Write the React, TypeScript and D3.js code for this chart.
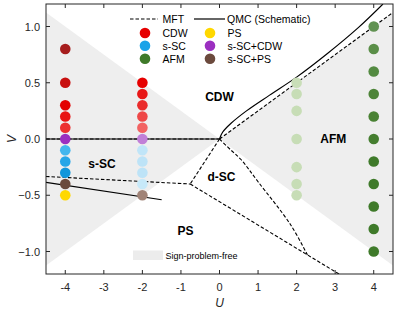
import React from "react";
import * as d3 from "d3";

// ---- data ----
const xTicks = [-4, -3, -2, -1, 0, 1, 2, 3, 4];
const yTicks = [-1.0, -0.5, 0.0, 0.5, 1.0];

const pointU = [
  -4, -4, -4, -4, -4, -4, -4, -4, -4, -4, -4,
  -2, -2, -2, -2, -2, -2, -2, -2, -2, -2, -2,
  2, 2, 2, 2, 2, 2, 2,
  4, 4, 4, 4, 4, 4, 4, 4, 4, 4, 4,
];
const pointV = [
  0.8, 0.5, 0.3, 0.2, 0.1, 0.0, -0.1, -0.2, -0.3, -0.4, -0.5,
  0.5, 0.4, 0.3, 0.2, 0.1, 0.0, -0.1, -0.2, -0.3, -0.4, -0.5,
  0.5, 0.4, 0.25, 0.0, -0.25, -0.4, -0.5,
  1.0, 0.8, 0.6, 0.4, 0.2, 0.0, -0.2, -0.4, -0.6, -0.8, -1.0,
];
const pointPhase = [
  "CDW", "CDW", "CDW", "CDW", "CDW", "s-SC+CDW", "s-SC", "s-SC", "s-SC", "s-SC+PS", "PS",
  "CDW", "CDW", "CDW", "CDW", "CDW", "s-SC+CDW", "s-SC", "s-SC", "s-SC", "s-SC", "s-SC+PS",
  "AFM", "AFM", "AFM", "AFM", "AFM", "AFM", "AFM",
  "AFM", "AFM", "AFM", "AFM", "AFM", "AFM", "AFM", "AFM", "AFM", "AFM", "AFM",
];

// MFT (dashed) boundaries
const mftLines: [number, number][][] = [
  [[-4.5, 0], [0, 0]],
  [[0, 0], [4.48, 1.12]],
  [[0, 0], [-0.76, -0.4]],
  [[-4.5, -0.333], [-0.76, -0.4]],
  [[-0.76, -0.4], [3.1, -1.2]],
  [[0, 0], [0.3, -0.1], [0.55, -0.18], [1.0, -0.38], [1.84, -0.76], [2.28, -1.03]],
];
// QMC (schematic, solid) boundaries
const qmcLines: [number, number][][] = [
  [[-4.5, 0], [0, 0]],
  [[0, 0], [0.08, 0.06], [0.3, 0.14], [0.7, 0.25], [1.3, 0.39], [2.0, 0.55], [2.8, 0.76], [3.6, 0.99], [4.24, 1.2]],
  [[-4.5, -0.386], [-1.5, -0.54]],
];
// sign-problem-free regions
const signFree: [number, number][][] = [
  [[-4.5, 1.125], [0, 0], [-4.5, -1.125]],
  [[4.5, 1.125], [0, 0], [4.5, -1.125]],
];

const regionLabels = ["CDW", "AFM", "s-SC", "d-SC", "PS"];
const regionU = [0.0, 2.95, -3.05, 0.05, -0.88];
const regionV = [0.37, 0.0, -0.22, -0.34, -0.82];

const legendPhases = ["CDW", "s-SC", "AFM", "PS", "s-SC+CDW", "s-SC+PS"];

// ---- styles ----
const phaseColor: Record<string, string> = {
  CDW: "#e60000",
  "s-SC": "#1ba3e8",
  AFM: "#3f7a2a",
  PS: "#ffd800",
  "s-SC+CDW": "#9b2fc0",
  "s-SC+PS": "#6b4a3d",
};
const pointFill = [
  "#a61d1d", "#c8100f", "#e30000", "#e81414", "#ec3030", "#9b2fc0", "#41b6ee", "#25a6e8", "#1196db", "#6b4a3d", "#ffd800",
  "#e60000", "#e81717", "#ea2c2c", "#ee4747", "#f26262", "#c17fd7", "#c0e5f8", "#bde3f7", "#bde3f7", "#c7e9f9", "#a08377",
  "#c9deb8", "#c7ddb6", "#c7ddb6", "#c7ddb6", "#c7ddb6", "#c7ddb6", "#c7ddb6",
  "#619252", "#5a8e48", "#538a41", "#4d8438", "#4a8234", "#457e30", "#3f7a2a", "#3f7a2a", "#3f7a2a", "#3f7a2a", "#3f7a2a",
];

const W = 399, H = 312;
const M = { left: 46, right: 393, top: 4, bottom: 274 };
const FONT = "'Liberation Sans', Arial, Helvetica, sans-serif";

export default function App() {
  const x = d3.scaleLinear().domain([-4.5, 4.5]).range([M.left, M.right]);
  const y = d3.scaleLinear().domain([-1.2, 1.2]).range([M.bottom, M.top]);
  const line = d3.line<[number, number]>().x((d) => x(d[0])).y((d) => y(d[1]));
  const curve = d3
    .line<[number, number]>()
    .x((d) => x(d[0]))
    .y((d) => y(d[1]))
    .curve(d3.curveCatmullRom.alpha(0.5));
  const R = 5.3;
  const legCol1 = 145, legCol2 = 210;
  const legRows = [33, 45.7, 58.7];

  return (
    <svg
      width={W}
      height={H}
      style={{ position: "absolute", left: 0, top: 0, background: "#fff" }}
      fontFamily={FONT}
    >
      <defs>
        <clipPath id="plotclip">
          <rect x={M.left} y={M.top} width={M.right - M.left} height={M.bottom - M.top} />
        </clipPath>
      </defs>
      <g clipPath="url(#plotclip)">
        {signFree.map((p, i) => (
          <path key={i} d={line(p)! + "Z"} fill="#eeeeee" stroke="none" />
        ))}
        {mftLines.map((p, i) => (
          <path key={"m" + i} d={curve(p)!} fill="none" stroke="#000" strokeWidth={1.1} strokeDasharray="3.5,2" />
        ))}
        {qmcLines.map((p, i) => (
          <path key={"q" + i} d={curve(p)!} fill="none" stroke="#000" strokeWidth={1.2} />
        ))}
        {pointU.map((u, i) => (
          <circle key={"p" + i} cx={x(u)} cy={y(pointV[i])} r={R} fill={pointFill[i]} />
        ))}
      </g>

      {/* region labels */}
      {regionLabels.map((t, i) => (
        <text
          key={t}
          x={x(regionU[i])}
          y={y(regionV[i])}
          textAnchor="middle"
          dominantBaseline="central"
          fontWeight="bold"
          fontSize={12}
        >
          {t}
        </text>
      ))}

      {/* legend */}
      <line x1={130} x2={158} y1={19} y2={19} stroke="#000" strokeWidth={1.1} strokeDasharray="3.5,2" />
      <text x={162.5} y={19} fontSize={10.5} dominantBaseline="central">MFT</text>
      <line x1={194} x2={225} y1={19} y2={19} stroke="#000" strokeWidth={1.2} />
      <text x={227} y={19} fontSize={10.5} dominantBaseline="central">QMC (Schematic)</text>
      {legendPhases.map((ph, i) => {
        const col = i < 3 ? 0 : 1;
        const row = i % 3;
        const cx = col === 0 ? legCol1 : legCol2;
        return (
          <g key={ph}>
            <circle cx={cx} cy={legRows[row]} r={R} fill={phaseColor[ph]} />
            <text x={cx + 17.5} y={legRows[row]} fontSize={10.5} dominantBaseline="central">
              {ph}
            </text>
          </g>
        );
      })}
      <rect x={133} y={250.5} width={30} height={9.5} fill="#ececec" />
      <text x={165.5} y={255.5} fontSize={9} dominantBaseline="central">Sign-problem-free</text>

      {/* frame */}
      <rect
        x={M.left}
        y={M.top}
        width={M.right - M.left}
        height={M.bottom - M.top}
        fill="none"
        stroke="#262626"
        strokeWidth={1}
      />
      {xTicks.map((t) => (
        <g key={"xt" + t}>
          <line x1={x(t)} x2={x(t)} y1={M.bottom} y2={M.bottom - 4} stroke="#262626" />
          <line x1={x(t)} x2={x(t)} y1={M.top} y2={M.top + 4} stroke="#262626" />
          <text x={x(t)} y={287} fontSize={11} textAnchor="middle" dominantBaseline="central" fill="#262626">
            {t}
          </text>
        </g>
      ))}
      {yTicks.map((t) => (
        <g key={"yt" + t}>
          <line x1={M.left} x2={M.left + 4} y1={y(t)} y2={y(t)} stroke="#262626" />
          <line x1={M.right} x2={M.right - 4} y1={y(t)} y2={y(t)} stroke="#262626" />
          <text x={40} y={y(t)} fontSize={11} textAnchor="end" dominantBaseline="central" fill="#262626">
            {d3.format(".1f")(t)}
          </text>
        </g>
      ))}
      <text x={x(0)} y={303} fontSize={12} fontStyle="italic" textAnchor="middle" dominantBaseline="central" fill="#262626">
        U
      </text>
      <text
        x={12}
        y={y(0)}
        fontSize={12}
        fontStyle="italic"
        textAnchor="middle"
        dominantBaseline="central"
        fill="#262626"
        transform={`rotate(-90 12 ${y(0)})`}
      >
        V
      </text>
    </svg>
  );
}
